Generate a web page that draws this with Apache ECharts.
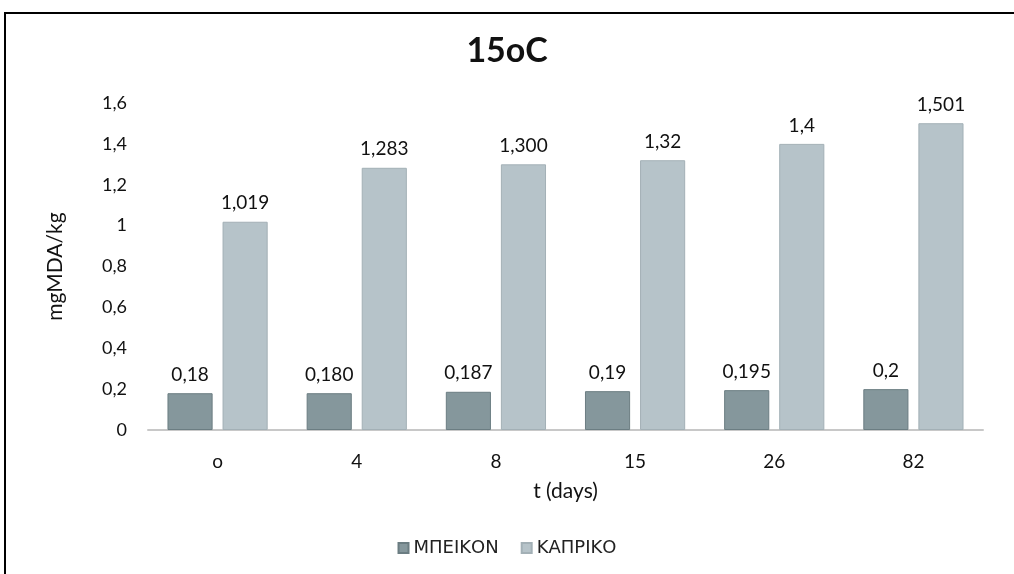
<!DOCTYPE html>
<html>
<head>
<meta charset="utf-8">
<script src="https://cdn.jsdelivr.net/npm/echarts@6/dist/echarts.min.js"></script>
<style>
  html, body { margin: 0; padding: 0; background: #fff; }
  #chart { width: 1014px; height: 574px; }
</style>
</head>
<body>
<div id="chart"></div>
<script>
// Sampling days
const days = ['o', '4', '8', '15', '26', '82'];
// Series names
const seriesNames = ['ΜΠΕΙΚΟΝ', 'ΚΑΠΡΙΚΟ'];
// mg MDA / kg
const baconValues = [0.18, 0.180, 0.187, 0.19, 0.195, 0.2];
const baconLabels = ['0,18', '0,180', '0,187', '0,19', '0,195', '0,2'];
const smokedValues = [1.019, 1.283, 1.300, 1.32, 1.4, 1.501];
const smokedLabels = ['1,019', '1,283', '1,300', '1,32', '1,4', '1,501'];
// Value axis ticks
const yMin = 0, yMax = 1.6, yStep = 0.2;

const FONT = 'Lato, "Open Sans", sans-serif';
const chart = echarts.init(document.getElementById('chart'));

function labelFor(list) {
  return {
    show: true,
    position: 'top',
    distance: 9,
    color: '#111',
    fontFamily: FONT,
    fontSize: 19,
    formatter: p => list[p.dataIndex]
  };
}

chart.setOption({
  animation: false,
  backgroundColor: '#fff',
  graphic: [{
    type: 'rect',
    shape: { x: 5, y: 13, width: 1020, height: 580 },
    style: { fill: 'none', stroke: '#000', lineWidth: 2 },
    silent: true
  }],
  title: {
    text: '15oC',
    left: 'center',
    top: 29,
    textStyle: { fontFamily: FONT, fontSize: 34, fontWeight: 'bold', color: '#111' }
  },
  legend: {
    bottom: 12,
    left: 'center',
    itemWidth: 10,
    itemHeight: 10,
    itemGap: 22,
    icon: 'rect',
    textStyle: { fontFamily: '"DejaVu Sans", sans-serif', fontSize: 18, color: '#222' },
    data: seriesNames
  },
  grid: { left: 148, right: 31, top: 103, bottom: 144 },
  xAxis: {
    type: 'category',
    data: days,
    name: 't (days)',
    nameLocation: 'middle',
    nameGap: 51,
    nameTextStyle: { fontFamily: FONT, fontSize: 21, color: '#111' },
    axisLine: { lineStyle: { color: '#c8c8c8', width: 2 } },
    axisTick: { show: false },
    axisLabel: { margin: 22, fontFamily: FONT, fontSize: 19, color: '#111' }
  },
  yAxis: {
    type: 'value',
    min: yMin,
    max: yMax,
    interval: yStep,
    name: 'mgMDA/kg',
    nameLocation: 'middle',
    nameGap: 82,
    nameTextStyle: { fontFamily: FONT, fontSize: 21, color: '#111' },
    axisLine: { show: false },
    axisTick: { show: false },
    splitLine: { show: false },
    axisLabel: {
      margin: 21,
      fontFamily: FONT,
      fontSize: 18,
      color: '#111',
      formatter: v => String(+v.toFixed(1)).replace('.', ',')
    }
  },
  series: [
    {
      name: seriesNames[0],
      type: 'bar',
      data: baconValues,
      barGap: '22%',
      barCategoryGap: '28%',
      itemStyle: { color: '#85979c', borderColor: '#6b7d82', borderWidth: 1 },
      label: labelFor(baconLabels)
    },
    {
      name: seriesNames[1],
      type: 'bar',
      data: smokedValues,
      itemStyle: { color: '#b6c3c9', borderColor: '#a3b0b6', borderWidth: 1 },
      label: labelFor(smokedLabels)
    }
  ]
});
</script>
</body>
</html>
